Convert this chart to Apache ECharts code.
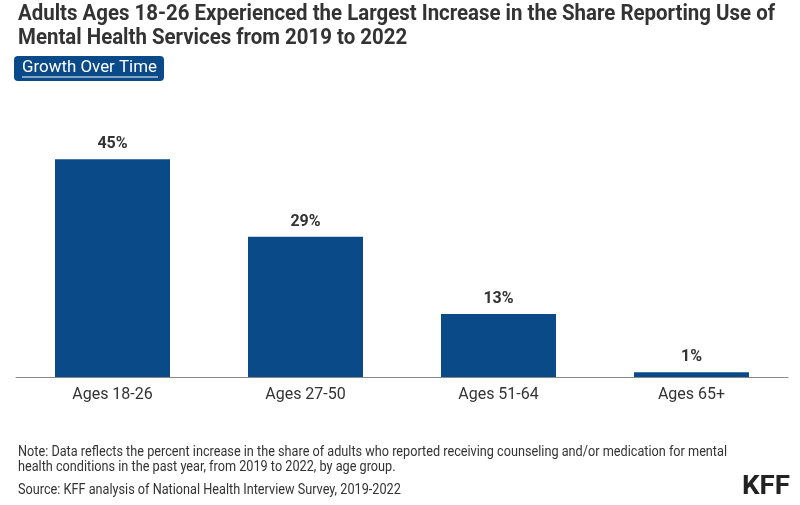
<!DOCTYPE html>
<html><head><meta charset="utf-8">
<script src="https://cdn.jsdelivr.net/npm/echarts@6/dist/echarts.min.js"></script>
<style>html,body{margin:0;padding:0;background:#fff}#c{width:800px;height:505px}</style>
</head><body><div id="c"></div>
<script>
const categories = ['Ages 18-26', 'Ages 27-50', 'Ages 51-64', 'Ages 65+'];
const values = [45, 29, 13, 1];
const titleLines = ['Adults Ages 18-26 Experienced the Largest Increase in the Share Reporting Use of', 'Mental Health Services from 2019 to 2022'];
const noteLines = ['Note: Data reflects the percent increase in the share of adults who reported receiving counseling and/or medication for mental', 'health conditions in the past year, from 2019 to 2022, by age group.'];
const sourceLine = 'Source: KFF analysis of National Health Interview Survey, 2019-2022';

const F = 'Roboto, "Noto Sans", sans-serif';
const ctx = document.createElement('canvas').getContext('2d');
function fit(text, font, w) { ctx.font = font; return w / ctx.measureText(text).width; }

const titleFont = 'bold 22px ' + F;
const tS = fit(titleLines[0], titleFont, 757);
const noteFont = '14px ' + F;
const nS = fit(noteLines[0], noteFont, 709);
const btnFont = '17px ' + F;
const bS = fit('Growth Over Time', btnFont, 135);
const kffFont = 'bold 26px ' + F;
const kS = fit('KFF', kffFont, 48);

function txt(text, x, y, font, s, fill) {
  return {type: 'text', x: x, y: y, scaleX: s, style: {text: text, font: font, fill: fill, textVerticalAlign: 'middle'}};
}

const chart = echarts.init(document.getElementById('c'));
chart.setOption({
  animation: false,
  grid: {left: 16, right: 12, top: 135, bottom: 128},
  xAxis: {type: 'category', data: categories,
    axisLine: {lineStyle: {color: '#888', width: 1}}, axisTick: {show: false},
    axisLabel: {color: '#333', fontSize: 16, fontFamily: F, margin: 10}},
  yAxis: {type: 'value', min: 0, max: 50, show: false, splitLine: {show: false}},
  series: [{type: 'bar', data: values, barWidth: 115, itemStyle: {color: '#0b4a89'},
    label: {show: true, position: 'top', formatter: '{c}%', color: '#333', fontSize: 16, fontWeight: 'bold', fontFamily: F, distance: 7}}],
  graphic: [
    txt(titleLines[0], 18, 14, titleFont, tS, '#333'),
    txt(titleLines[1], 18, 38, titleFont, tS, '#333'),
    {type: 'rect', shape: {x: 14, y: 56, width: 150, height: 25, r: 4}, style: {fill: '#0b4a89'}},
    txt('Growth Over Time', 22, 68, btnFont, bS, '#fff'),
    {type: 'line', shape: {x1: 22, y1: 77, x2: 158, y2: 77}, style: {stroke: '#fff', lineWidth: 1}},
    txt(noteLines[0], 18, 452, noteFont, nS, '#333'),
    txt(noteLines[1], 18, 467, noteFont, nS, '#333'),
    txt(sourceLine, 18, 490, noteFont, nS, '#333'),
    txt('KFF', 742, 487, kffFont, kS, '#222')
  ]
});
</script></body></html>
